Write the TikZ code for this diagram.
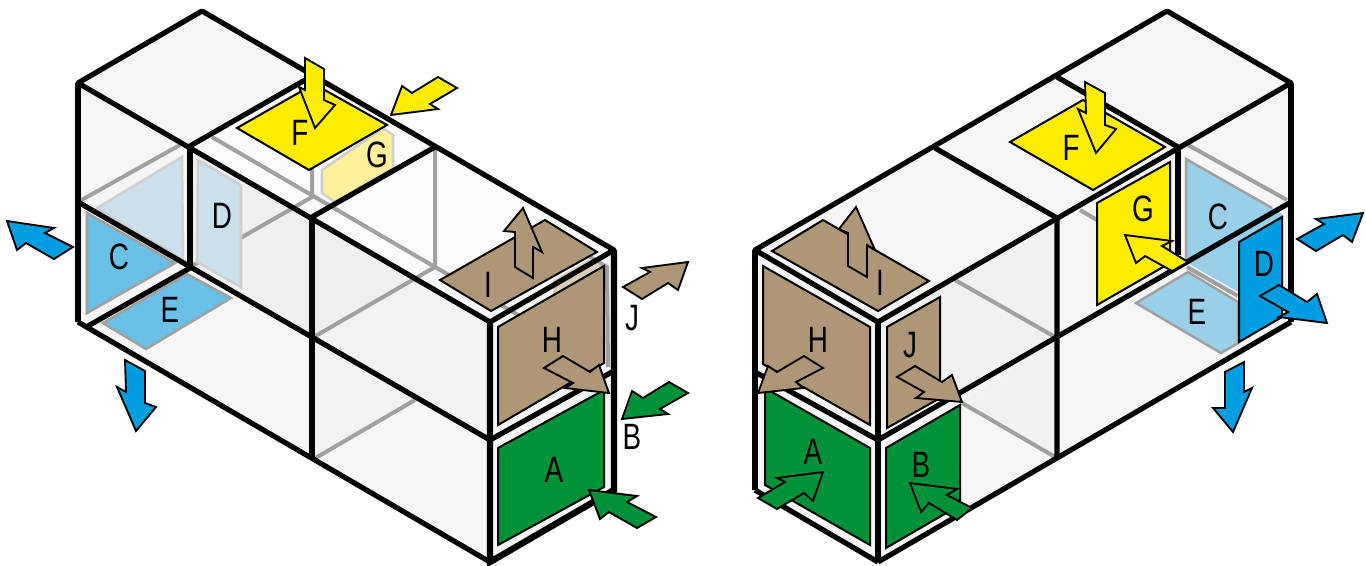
\documentclass[tikz,border=0pt]{standalone}
\usepackage{fontspec}
\setmainfont{Liberation Sans}[FakeStretch=0.76]
\definecolor{facelight}{HTML}{F6F6F6}
\definecolor{facemid}{HTML}{F2F2F2}
\definecolor{facepale}{HTML}{FAFBFA}
\definecolor{faceshade}{HTML}{EEF0EF}
\definecolor{hidden}{HTML}{A0A0A0}
\definecolor{hiddenpale}{HTML}{CFCFCF}
\definecolor{waterdark}{HTML}{009EE0}
\definecolor{watermid}{HTML}{69C1E8}
\definecolor{waterpale}{HTML}{9ACFEA}
\definecolor{waterfaint}{HTML}{CAE0EC}
\definecolor{sunny}{HTML}{FFED00}
\definecolor{sunnypale}{HTML}{FFF099}
\definecolor{earth}{HTML}{AE9676}
\definecolor{earthpale}{HTML}{DCCDB8}
\definecolor{leaf}{HTML}{009239}
\begin{document}
\begin{tikzpicture}[
    x=0.75pt,y=-0.75pt,
    edge/.style={draw=black,line width=3.9pt,line join=round},
    edgewide/.style={draw=black,line width=4.8pt},
    hiddenedge/.style={draw=hidden,line width=3pt},
    panel/.style={draw=black,line width=1.5pt,line join=miter},
    panelgrey/.style={draw=hidden,line width=1.9pt,line join=miter},
    panelfaint/.style={draw=hiddenpale,line width=1.9pt,line join=miter},
    flow/.style={draw=black,line width=1.4pt,line join=miter},
    letter/.style={inner sep=0pt,font=\fontsize{27.5}{27.5}\selectfont}
]
\useasboundingbox (0,0) rectangle (1366,565);
% left block
\fill[facelight] (78,83)--(202,11)--(313,76)--(190,146)--(190,268)--(88,326)--(78,322)--cycle;
\fill[facepale] (190,146)--(313,76)--(614,250)--(490,322)--cycle;
\fill[faceshade] (190,146)--(312,217)--(312,338)--(190,268)--cycle;
\fill[facelight] (88,326)--(190,268)--(490,440)--(490,562)--cycle;
\fill[faceshade] (312,217)--(415,277)--(312,338)--cycle;
\fill[facemid] (415,277)--(490,322)--(490,440)--(312,338)--cycle;
\fill[facemid] (312,338)--(415,400)--(312,460)--cycle;
\fill[facelight] (490,322)--(614,250)--(614,490)--(490,562)--cycle;
\draw[hiddenedge] (78,202)--(180,145);
\draw[hiddenedge] (190,267)--(312,197)--(312,165);
\draw[hiddenedge] (212,137)--(435,267)--(520,316);
\draw[hiddenedge] (435,150)--(435,267)--(312,338);
\draw[hiddenedge] (415,400)--(312,460);
\draw[hiddenedge] (590,257)--(607,267)--(608,367);
\fill[earthpale] (553,280)--(590,259)--(602,266)--(553,295)--cycle;
\draw[panelfaint,fill=waterfaint] (97,208)--(182,157)--(183,260)--cycle;
\draw[panelfaint,fill=waterfaint] (198,160)--(241,185)--(241,287)--(197,262)--cycle;
\draw[panelfaint,fill=sunnypale] (322,170)--(322,193)--(335,202)--(393,168)--(393,135)--(383,128)--cycle;
\draw[panelgrey,fill=watermid] (87,213)--(175,263)--(87,313)--cycle;
\draw[panelgrey,fill=watermid] (103,323)--(187,274)--(231,298)--(146,349)--cycle;
\draw[edge] (78,83)--(202,11)--(614,250)--(490,322)--cycle;
\draw[edge] (190,146)--(305,80);
\draw[edge] (312,217)--(435,147);
\draw[edge] (78,202)--(490,440)--(612,372);
\draw[edge] (78,322)--(490,562);
\draw[edge] (88,326)--(190,268);
\draw[edgewide] (78,83)--(78,322);
\draw[edgewide] (190,146)--(190,268);
\draw[edge] (312,217)--(312,460);
\draw[edgewide] (490,322)--(490,562)--(614,490)--(614,250);
\draw[panel,fill=sunny] (237,128)--(314,84)--(387,125)--(309,170)--cycle;
\draw[panel,fill=earth] (440,280)--(545,220)--(597,252)--(491,311)--cycle;
\draw[panel,fill=earth] (498,327)--(604,266)--(604,363)--(498,425)--cycle;
\draw[panel,fill=leaf] (498,448)--(604,390)--(604,487)--(498,545)--cycle;
\draw[flow,fill=waterdark] (7,221)--(54,228)--(45,233)--(73,247)--(54,259)--(26,243)--(17,250)--cycle;
\draw[flow,fill=waterdark] (145,371)--(125,360)--(126,392)--(117,387)--(136,431)--(156,407)--(145,403)--cycle;
\draw[flow,fill=sunny] (305,58)--(324,69)--(324,100)--(335,105)--(315,128)--(299,87)--(305,90)--cycle;
\draw[flow,fill=sunny] (391,115)--(402,86)--(412,93)--(438,77)--(457,88)--(430,104)--(438,109)--cycle;
\draw[flow,fill=earth] (523,208)--(542,252)--(533,247)--(533,278)--(515,267)--(515,232)--(504,231)--cycle;
\draw[flow,fill=earth] (688,262)--(678,290)--(668,283)--(642,299)--(623,287)--(650,272)--(642,268)--cycle;
\draw[flow,fill=earth] (609,393)--(565,388)--(573,383)--(544,368)--(563,356)--(590,372)--(599,365)--cycle;
\draw[flow,fill=leaf] (622,419)--(632,391)--(643,398)--(669,382)--(688,393)--(660,409)--(668,414)--cycle;
\draw[flow,fill=leaf] (589,490)--(637,496)--(627,502)--(656,517)--(637,528)--(609,512)--(600,519)--cycle;
\node[letter] (leftA) at (554,470) {A};
\node[letter] (leftB) at (632,437) {B};
\node[letter] (leftC) at (119,257) {C};
\node[letter] (leftD) at (222,216) {D};
\node[letter] (leftE) at (170,310) {E};
\node[letter] (leftF) at (300,133) {F};
\node[letter] (leftG) at (377,155) {G};
\node[letter] (leftH) at (552,340) {H};
\node[letter] (leftI) at (488,285) {I};
\node[letter] (leftJ) at (632,318) {J};
% right block
\fill[facelight] (755,250)--(1167,11)--(1291,83)--(1291,322)--(878,562)--(755,490)--cycle;
\fill[faceshade!60!facemid] (878,322)--(1057,218)--(1057,338)--(878,440)--cycle;
\fill[faceshade!60!facemid] (962,403)--(1057,338)--(1057,458)--cycle;
\draw[hiddenedge] (1188,145)--(1287,200);
\draw[hiddenedge] (1080,210)--(1097,220);
\draw[hiddenedge] (955,280)--(1057,338);
\draw[hiddenedge] (962,403)--(1057,458);
\draw[hiddenedge] (1187,267)--(1238,296);
\fill[waterpale] (1186,159)--(1272,208)--(1282,214)--(1282,300)--(1238,292)--(1186,262)--cycle;
\draw[hidden,line width=1.9pt] (1186,262)--(1186,159)--(1272,208);
\draw[panelgrey,fill=waterpale] (1136,303)--(1188,272)--(1238,302)--(1238,343)--(1221,353)--cycle;
\draw[edge] (755,250)--(1167,11)--(1291,83)--(878,322)--cycle;
\draw[edge] (755,372)--(878,440)--(1291,202);
\draw[edge] (878,562)--(1291,322);
\draw[edge] (755,490)--(878,562);
\draw[edge] (935,148)--(1057,218)--(1057,458);
\draw[edge] (1057,77)--(1178,147);
\draw[edgewide] (1178,147)--(1178,255);
\draw[edgewide] (755,250)--(755,490);
\draw[edgewide] (878,322)--(878,562);
\draw[edge] (1291,83)--(1291,322);
\draw[panel,fill=sunny] (1010,142)--(1083,100)--(1165,147)--(1093,190)--cycle;
\draw[panel,fill=sunny] (1097,203)--(1170,162)--(1170,263)--(1097,305)--cycle;
\draw[panel,fill=waterdark] (1239,242)--(1282,217)--(1282,317)--(1239,342)--cycle;
\draw[panel,fill=earth] (772,251)--(823,220)--(929,281)--(878,311)--cycle;
\draw[panel,fill=earth] (763,266)--(870,327)--(870,425)--(763,364)--cycle;
\draw[panel,fill=earth] (887,327)--(940,297)--(940,398)--(887,428)--cycle;
\draw[panel,fill=leaf] (765,388)--(870,448)--(870,545)--(765,485)--cycle;
\draw[panel,fill=leaf] (886,448)--(960,405)--(960,505)--(886,548)--cycle;
\draw[flow,fill=sunny] (1085,82)--(1105,93)--(1105,125)--(1116,129)--(1096,153)--(1078,109)--(1086,113)--cycle;
\draw[flow,fill=sunny] (1125,235)--(1172,241)--(1162,246)--(1188,262)--(1172,271)--(1145,256)--(1136,263)--cycle;
\draw[flow,fill=waterdark] (1279,285)--(1307,302)--(1317,294)--(1327,323)--(1279,317)--(1288,312)--(1260,296)--cycle;
\draw[flow,fill=waterdark] (1363,213)--(1352,242)--(1343,235)--(1316,251)--(1297,239)--(1324,224)--(1316,219)--cycle;
\draw[flow,fill=waterdark] (1225,372)--(1244,362)--(1244,392)--(1252,388)--(1233,432)--(1213,408)--(1225,408)--cycle;
\draw[flow,fill=earth] (856,207)--(875,250)--(867,245)--(867,277)--(848,266)--(848,233)--(839,229)--cycle;
\draw[flow,fill=earth] (758,393)--(768,366)--(777,372)--(804,356)--(823,368)--(796,382)--(803,388)--cycle;
\draw[flow,fill=earth] (962,402)--(952,375)--(942,382)--(915,366)--(897,377)--(924,392)--(916,398)--cycle;
\draw[flow,fill=leaf] (823,472)--(813,501)--(804,493)--(777,509)--(758,498)--(785,482)--(777,478)--cycle;
\draw[flow,fill=leaf] (910,483)--(957,489)--(947,495)--(972,508)--(957,520)--(929,503)--(921,512)--cycle;
\node[letter] (rightA) at (813,452) {A};
\node[letter] (rightB) at (921,465) {B};
\node[letter] (rightC) at (1218,217) {C};
\node[letter] (rightD) at (1264,264) {D};
\node[letter] (rightE) at (1197,312) {E};
\node[letter] (rightF) at (1071,148) {F};
\node[letter] (rightG) at (1143,209) {G};
\node[letter] (rightH) at (818,340) {H};
\node[letter] (rightI) at (880,283) {I};
\node[letter] (rightJ) at (910,345) {J};
\end{tikzpicture}
\end{document}
